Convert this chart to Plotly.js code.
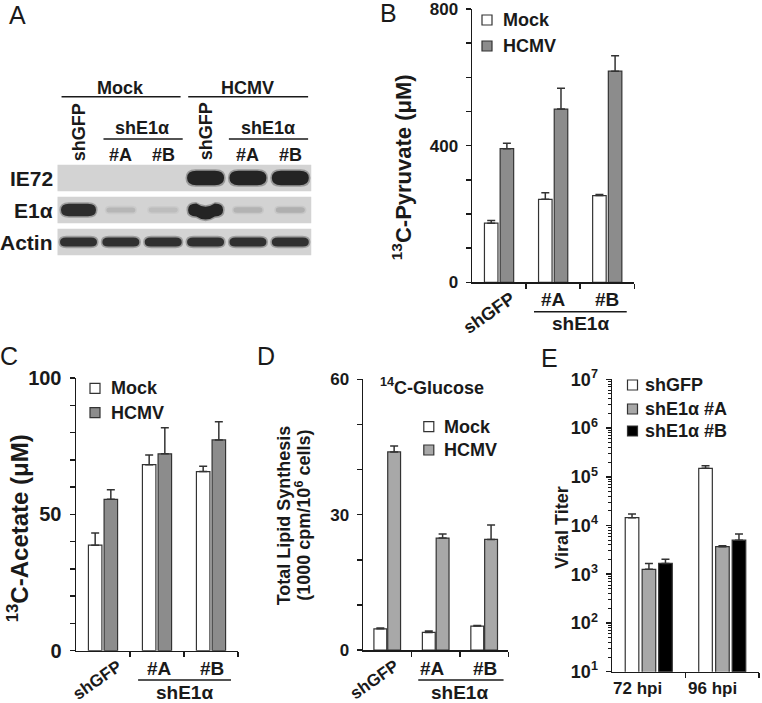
<!DOCTYPE html>
<html><head><meta charset="utf-8">
<script src="https://cdn.plot.ly/plotly-3.0.1.min.js"></script>
<style>html,body{margin:0;padding:0;background:#fff}#chart{width:762px;height:703px}</style>
</head><body><div id="chart"></div>
<script>
// ---------- DATA ----------
// Panel A (western blot): relative band intensity per lane
const blotGroups = ['Mock', 'HCMV'];
const blotLanes = ['shGFP', '#A', '#B', 'shGFP', '#A', '#B'];
const blotRows = ['IE72', 'E1α', 'Actin'];
const ie72Band = [0, 0, 0, 1, 1, 1];
const e1aBand = [0.95, 0.17, 0.13, 1, 0.19, 0.21];
const actinBand = [0.93, 0.93, 0.93, 0.93, 0.93, 0.93];
const e1aSmile = [0, 0, 0, 1, 0, 0];

// Panels B-D categories
const cats = ['shGFP', '#A', '#B'];
const knockGroup = 'shE1α';
const seriesNames = ['Mock', 'HCMV'];

// Panel B: 13C-Pyruvate (µM)
const bMock = [173, 243, 254];
const bMockErr = [8, 19, 3];
const bHcmv = [391, 507, 618];
const bHcmvErr = [16, 61, 45];
const bTicks = [0, 400, 800];
const bMinorTicks = [100, 200, 300, 500, 600, 700];

// Panel C: 13C-Acetate (µM)
const cMock = [38.7, 68.2, 65.7];
const cMockErr = [4.5, 3.6, 1.9];
const cHcmv = [55.5, 72.2, 77.3];
const cHcmvErr = [3.5, 9.6, 6.7];
const cTicks = [0, 50, 100];
const cMinorTicks = [10, 20, 30, 40, 60, 70, 80, 90];

// Panel D: Total lipid synthesis (1000 cpm / 10^6 cells)
const dMock = [4.7, 3.9, 5.3];
const dMockErr = [0.2, 0.3, 0.15];
const dHcmv = [43.9, 24.8, 24.5];
const dHcmvErr = [1.3, 0.9, 3.2];
const dTicks = [0, 30, 60];
const dMinorTicks = [10, 20, 40, 50];

// Panel E: Viral titer
const eCats = ['72 hpi', '96 hpi'];
const eNames = ['shGFP', 'shE1α #A', 'shE1α #B'];
const eShGFP = [14500, 149000];
const eShGFPErr = [2700, 20000];
const eShA = [1260, 3670];
const eShAErr = [410, 180];
const eShB = [1670, 5000];
const eShBErr = [370, 1680];
const eTicks = [1e1, 1e2, 1e3, 1e4, 1e5, 1e6, 1e7];
const eTickText = ['10<sup>1</sup>', '10<sup>2</sup>', '10<sup>3</sup>', '10<sup>4</sup>', '10<sup>5</sup>', '10<sup>6</sup>', '10<sup>7</sup>'];

// ---------- HELPERS ----------
const W = 762, H = 703;
const FONT = 'Liberation Sans, Arial, Helvetica, sans-serif';
const INK = '#1a1a1a';
const px = x => x / W;
const py = y => 1 - y / H;
const idx = arr => arr.map((_, i) => i);

const annotations = [];
const shapes = [];
function txt(text, x, y, o) {
  o = o || {};
  annotations.push({
    text: text, x: o.xref ? x : px(x), y: o.yref ? y : py(y),
    xref: o.xref || 'paper', yref: o.yref || 'paper',
    xshift: o.xshift || 0, yshift: o.yshift || 0,
    showarrow: false, xanchor: o.xa || 'center', yanchor: 'middle',
    textangle: o.angle || 0,
    font: {family: FONT, size: o.size || 18, color: INK, weight: o.weight || 'bold'}
  });
}
function hline(x0, x1, y, xref) {
  shapes.push({type: 'line', xref: xref, yref: 'paper', x0: x0, x1: x1, y0: py(y), y1: py(y),
    line: {color: INK, width: 1.6}});
}
function swatch(cx, cy, color) {
  shapes.push({type: 'rect', xref: 'paper', yref: 'paper',
    x0: px(cx - 5), x1: px(cx + 5), y0: py(cy + 5), y1: py(cy - 5),
    fillcolor: color, line: {color: '#333', width: 1.2}});
}
function bar(xa, ya, n, y, err, color, offset, width) {
  return {type: 'bar', x: idx(n), y: y, xaxis: xa, yaxis: ya, offset: offset, width: width,
    marker: {color: color, line: {color: '#333', width: 1.2}},
    error_y: {type: 'data', symmetric: false, array: err, arrayminus: err.map(() => 0),
      color: '#333', thickness: 1.5, width: 4},
    showlegend: false, hoverinfo: 'skip'};
}

// ---------- TRACES ----------
const GRAY_B = '#8c8c8c', GRAY_D = '#a8a8a8';
const traces = [
  bar('x', 'y', cats, bMock, bMockErr, '#ffffff', -0.27, 0.25),
  bar('x', 'y', cats, bHcmv, bHcmvErr, GRAY_B, 0.02, 0.25),
  bar('x2', 'y2', cats, cMock, cMockErr, '#ffffff', -0.27, 0.25),
  bar('x2', 'y2', cats, cHcmv, cHcmvErr, GRAY_B, 0.02, 0.25),
  bar('x3', 'y3', cats, dMock, dMockErr, '#ffffff', -0.275, 0.265),
  bar('x3', 'y3', cats, dHcmv, dHcmvErr, GRAY_D, 0.01, 0.265),
  bar('x4', 'y4', eCats, eShGFP, eShGFPErr, '#ffffff', -0.32, 0.185),
  bar('x4', 'y4', eCats, eShA, eShAErr, GRAY_D, -0.09, 0.185),
  bar('x4', 'y4', eCats, eShB, eShBErr, '#000000', 0.135, 0.185)
];

// ---------- AXES ----------
const axBase = {showline: true, linecolor: INK, linewidth: 1.5, showgrid: false, zeroline: false,
  ticks: 'outside', tickcolor: INK, tickwidth: 1.5, ticklen: 5, fixedrange: true};
function xax(domain, n, anchor) {
  const b = [];
  for (let i = 0; i < n; i++) b.push(i + 0.5);
  return Object.assign({}, axBase, {domain: domain, range: [-0.5, n - 0.5], anchor: anchor,
    tickmode: 'array', tickvals: b, showticklabels: false});
}
function yax(domain, range, tv, tt, minorVals, minorLen, anchor, size) {
  return Object.assign({}, axBase, {domain: domain, range: range, anchor: anchor,
    tickmode: 'array', tickvals: tv, ticktext: tt, ticklabelstandoff: 4, ticklabeloverflow: 'allow',
    tickfont: {family: FONT, size: size, color: INK, weight: 'bold'},
    minor: {tickmode: 'array', tickvals: minorVals, ticks: 'outside', ticklen: minorLen,
      tickcolor: INK, tickwidth: minorLen > 4 ? 1.5 : 1, showgrid: false}});
}
const eMinor = [];
for (let e = 1; e < 7; e++) for (let m = 2; m <= 9; m++) eMinor.push(m * Math.pow(10, e));

const layout = {
  width: W, height: H, margin: {l: 0, r: 0, t: 0, b: 0},
  paper_bgcolor: '#ffffff', plot_bgcolor: 'rgba(0,0,0,0)',
  showlegend: false, barmode: 'overlay',
  xaxis: xax([px(472), px(634.3)], cats.length, 'y'),
  yaxis: yax([py(282.3), py(9)], [0, 800], bTicks, bTicks.map(String), bMinorTicks, 5, 'x', 17),
  xaxis2: xax([px(76), px(238)], cats.length, 'y2'),
  yaxis2: yax([py(650.7), py(378)], [0, 100], cTicks, cTicks.map(String), cMinorTicks, 5, 'x2', 20),
  xaxis3: xax([px(363), px(508.4)], cats.length, 'y3'),
  yaxis3: yax([py(650), py(379.3)], [0, 60], dTicks, dTicks.map(String), dMinorTicks, 5, 'x3', 17),
  xaxis4: xax([px(612), px(759)], eCats.length, 'y4'),
  yaxis4: Object.assign(yax([py(671.7), py(379.3)], [1, 7], eTicks, eTickText, eMinor, 3, 'x4', 18), {type: 'log'}),
  xaxis5: {domain: [px(57.3), px(311.5)], range: [-0.5, 5.5], visible: false, anchor: 'y5', fixedrange: true},
  yaxis5: {domain: [py(258), py(162)], range: [2.5, -0.5], visible: false, anchor: 'x5', fixedrange: true},
  annotations: annotations, shapes: shapes
};

// ---------- PANEL A: blot ----------
const lanePx = (311.5 - 57.3) / 6, rowPx = 32;
const BG = 212, DARK = 36;
function grey(v) { const g = Math.round(v); return 'rgb(' + g + ',' + g + ',' + g + ')'; }
function bandPath(xc, yc, hwPx, hhPx, dipPx) {
  const hw = hwPx / lanePx, h = hhPx / rowPx, d = dipPx / rowPx;
  const rx = Math.min(hhPx * 1.3, hwPx * 0.5) / lanePx;
  const x0 = xc - hw, x1 = xc + hw;
  const f = n => n.toFixed(4);
  return 'M' + f(x0 + rx) + ',' + f(yc - h) +
    ' Q' + f(xc) + ',' + f(yc - h + 2 * d) + ' ' + f(x1 - rx) + ',' + f(yc - h) +
    ' Q' + f(x1) + ',' + f(yc - h) + ' ' + f(x1) + ',' + f(yc) +
    ' Q' + f(x1) + ',' + f(yc + h) + ' ' + f(x1 - rx) + ',' + f(yc + h) +
    ' Q' + f(xc) + ',' + f(yc + h + 2 * d) + ' ' + f(x0 + rx) + ',' + f(yc + h) +
    ' Q' + f(x0) + ',' + f(yc + h) + ' ' + f(x0) + ',' + f(yc) +
    ' Q' + f(x0) + ',' + f(yc - h) + ' ' + f(x0 + rx) + ',' + f(yc - h) + ' Z';
}
function band(lane, row, inten, hwPx, hhPx, dipPx) {
  if (inten <= 0) return;
  const c = BG - (BG - DARK) * inten;
  const halo = BG - (BG - DARK) * inten * 0.55;
  shapes.push({type: 'path', xref: 'x5', yref: 'y5', path: bandPath(lane, row, hwPx + 1.6, hhPx + 1.6, dipPx),
    fillcolor: grey(halo), line: {width: 0}, opacity: 0.6});
  shapes.push({type: 'path', xref: 'x5', yref: 'y5', path: bandPath(lane, row, hwPx, hhPx, dipPx),
    fillcolor: grey(c), line: {width: 0}});
}
// row backgrounds
blotRows.forEach((r, i) => {
  shapes.push({type: 'rect', xref: 'x5', yref: 'y5', x0: -0.5, x1: 5.5, y0: i - 0.415, y1: i + 0.415,
    fillcolor: '#d3d3d3', line: {width: 0}, layer: 'below'});
});
blotLanes.forEach((l, i) => {
  band(i, 0, ie72Band[i], 18.5, 7.2, 0);
  const e = e1aBand[i];
  band(i, 1, e, e > 0.5 ? 17.5 : 14.5, 1.8 + 4.6 * e, 3.2 * e1aSmile[i]);
  band(i, 2, actinBand[i], 18.5, 4.6, 0);
});
// row labels
blotRows.forEach((r, i) => txt(r, 55, i, {yref: 'y5', xa: 'right', size: 21, yshift: -1}));
// header
txt(blotGroups[0], 1, 88.3, {xref: 'x5'});
txt(blotGroups[1], 4, 88.3, {xref: 'x5'});
hline(-0.4, 2.41, 96.7, 'x5');
hline(2.59, 5.42, 96.7, 'x5');
blotLanes.forEach((l, i) => {
  if (l === 'shGFP') txt(l, i, 131.7, {xref: 'x5', angle: -90});
  else txt(l, i, 155, {xref: 'x5'});
});
txt(knockGroup, 1.51, 128.3, {xref: 'x5'});
txt(knockGroup, 4.48, 128.3, {xref: 'x5'});
hline(0.59, 2.46, 139, 'x5');
hline(3.55, 5.42, 139, 'x5');

// ---------- PANEL LETTERS ----------
txt('A', 17.5, 15, {size: 25, weight: 'normal'});
txt('B', 388.5, 13.5, {size: 25, weight: 'normal'});
txt('C', 8.5, 356, {size: 25, weight: 'normal'});
txt('D', 266, 356, {size: 25, weight: 'normal'});
txt('E', 549.5, 358, {size: 25, weight: 'normal'});

// ---------- PANEL B labels ----------
txt('<sup>13</sup>C-Pyruvate (μM)', 401.7, 167.5, {angle: -90, size: 22});
txt(cats[0], 0, 313, {xref: 'x', xshift: -10, angle: -35, size: 18});
txt(cats[1], 1, 299, {xref: 'x', size: 19});
txt(cats[2], 2, 299, {xref: 'x', size: 19});
hline(0.646, 2.36, 311.7, 'x');
txt(knockGroup, 1.51, 324, {xref: 'x', size: 19});
swatch(487, 20, '#ffffff'); txt(seriesNames[0], 500.7, 20, {xa: 'left', size: 18});
swatch(487, 46, GRAY_B); txt(seriesNames[1], 500.7, 46, {xa: 'left', size: 18});

// ---------- PANEL C labels ----------
txt('<sup>13</sup>C-Acetate (μM)', 18.3, 528, {angle: -90, size: 24});
txt(cats[0], 0, 680.5, {xref: 'x2', xshift: -6, angle: -35, size: 17});
txt(cats[1], 1.046, 668, {xref: 'x2', size: 19});
txt(cats[2], 2.01, 668, {xref: 'x2', size: 19});
hline(0.65, 2.37, 680, 'x2');
txt(knockGroup, 1.5, 692.5, {xref: 'x2', size: 19});
swatch(95, 388.3, '#ffffff'); txt(seriesNames[0], 109.3, 388.3, {xa: 'left', size: 18});
swatch(95, 412.7, GRAY_B); txt(seriesNames[1], 109.3, 412.7, {xa: 'left', size: 18});

// ---------- PANEL D labels ----------
txt('Total Lipid Synthesis', 284.3, 515, {angle: -90, size: 18});
txt('(1000 cpm/10<sup>6</sup> cells)', 302.7, 515, {angle: -90, size: 18});
txt('<sup>14</sup>C-Glucose', 432.5, 386.7, {size: 18});
txt(cats[0], 0, 679.5, {xref: 'x3', xshift: -12.5, angle: -35, size: 17});
txt(cats[1], 0.924, 668, {xref: 'x3', size: 19});
txt(cats[2], 2.02, 668, {xref: 'x3', size: 19});
hline(0.64, 2.40, 680, 'x3');
txt(knockGroup, 1.5, 692.5, {xref: 'x3', size: 19});
swatch(428.8, 426.7, '#ffffff'); txt(seriesNames[0], 441.7, 426.7, {xa: 'left', size: 18});
swatch(428.8, 450, GRAY_D); txt(seriesNames[1], 441.7, 450, {xa: 'left', size: 18});

// ---------- PANEL E labels ----------
txt('Viral Titer', 561.7, 528, {angle: -90, size: 18});
txt(eCats[0], 0, 688.3, {xref: 'x4', xshift: -11.5, size: 17});
txt(eCats[1], 1, 688.3, {xref: 'x4', xshift: -9.5, size: 17});
const eColors = ['#ffffff', GRAY_D, '#000000'];
const eLegY = [385, 409, 431];
eNames.forEach((n, i) => { swatch(632.5, eLegY[i], eColors[i]); txt(n, 643.3, eLegY[i], {xa: 'left', size: 18}); });

Plotly.newPlot('chart', traces, layout, {staticPlot: true, displayModeBar: false});
</script>
</body></html>
